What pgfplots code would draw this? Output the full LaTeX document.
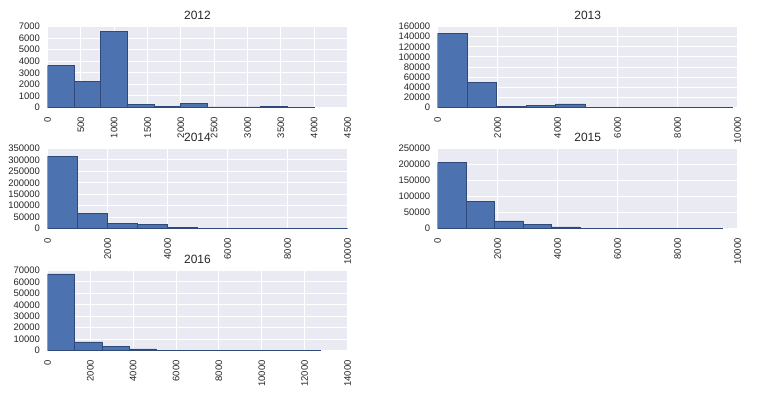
\documentclass[border=0pt]{standalone}
\usepackage{fontspec}
\setmainfont{Liberation Sans}
\usepackage{pgfplots}
\pgfplotsset{compat=1.18}
\definecolor{sbblue}{HTML}{4C72B0}
\definecolor{sbedge}{HTML}{2F4A78}
\definecolor{sbbg}{HTML}{EAEAF2}
\definecolor{txt}{HTML}{262626}
\pgfplotsset{
 hstyle/.style={
   scale only axis, width=300bp, anchor=north west,
   axis background/.style={fill=sbbg},
   axis line style={draw=none},
   major tick length=0pt,
   grid=major, major grid style={white, line width=1bp},
   ymin=0, xmin=0,
   scaled x ticks=false, scaled y ticks=false,
   /pgf/number format/assume math mode=true,
   /pgf/number format/fixed, /pgf/number format/1000 sep={},
   tick label style={font=\fontsize{9.5}{10}\selectfont, text=txt},
   xticklabel style={rotate=90, anchor=east},
   xticklabel shift=6bp, yticklabel shift=4bp,
   title style={font=\fontsize{12}{13}\selectfont, text=txt, yshift=-2.5bp},
   enlargelimits=false,
 },
 hbar/.style={ybar interval, fill=sbblue, draw=sbedge, line width=0.8bp}
}
\begin{document}
\begin{tikzpicture}
\path[use as bounding box] (0,0) rectangle (762bp,-396bp);
% 2012
\begin{axis}[hstyle, at={(47.5bp,-26.5bp)}, height=81bp, title={2012},
  xmax=4500, ymax=7000, xtick={0,500,...,4500}, ytick={0,1000,...,7000}]
\addplot[hbar] coordinates {(0,3600)(400,2290)(800,6570)(1200,300)(1600,70)(2000,350)(2400,50)(2800,50)(3200,60)(3600,20)(4000,0)};
\end{axis}
% 2013
\begin{axis}[hstyle, at={(437.7bp,-26.5bp)}, height=81bp, title={2013},
  xmax=10000, ymax=160000, xtick={0,2000,...,10000}, ytick={0,20000,...,160000}]
\addplot[hbar] coordinates {(0,146600)(983,49000)(1966,1200)(2949,3200)(3932,7000)(4915,300)(5898,150)(6881,100)(7864,50)(8847,30)(9830,0)};
\end{axis}
% 2014
\begin{axis}[hstyle, at={(47.5bp,-148.3bp)}, height=80.4bp, title={2014},
  xmax=10000, ymax=350000, xtick={0,2000,...,10000}, ytick={0,50000,...,350000}]
\addplot[hbar] coordinates {(0,315000)(1000,68300)(2000,21000)(3000,20000)(4000,7400)(5000,500)(6000,200)(7000,100)(8000,50)(9000,30)(10000,0)};
\end{axis}
% 2015
\begin{axis}[hstyle, at={(437.7bp,-148.3bp)}, height=80.4bp, title={2015},
  xmax=10000, ymax=250000, xtick={0,2000,...,10000}, ytick={0,50000,...,250000}]
\addplot[hbar] coordinates {(0,205000)(949,84000)(1898,24000)(2847,14600)(3796,5300)(4745,400)(5694,200)(6643,100)(7592,50)(8541,30)(9490,0)};
\end{axis}
% 2016
\begin{axis}[hstyle, at={(47.5bp,-270.3bp)}, height=80.4bp, title={2016},
  xmax=14000, ymax=70000, xtick={0,2000,...,14000}, ytick={0,10000,...,70000}]
\addplot[hbar] coordinates {(0,66800)(1274,7600)(2548,4100)(3822,1500)(5096,200)(6370,100)(7644,50)(8918,30)(10192,20)(11466,10)(12740,0)};
\end{axis}
\end{tikzpicture}
\end{document}
